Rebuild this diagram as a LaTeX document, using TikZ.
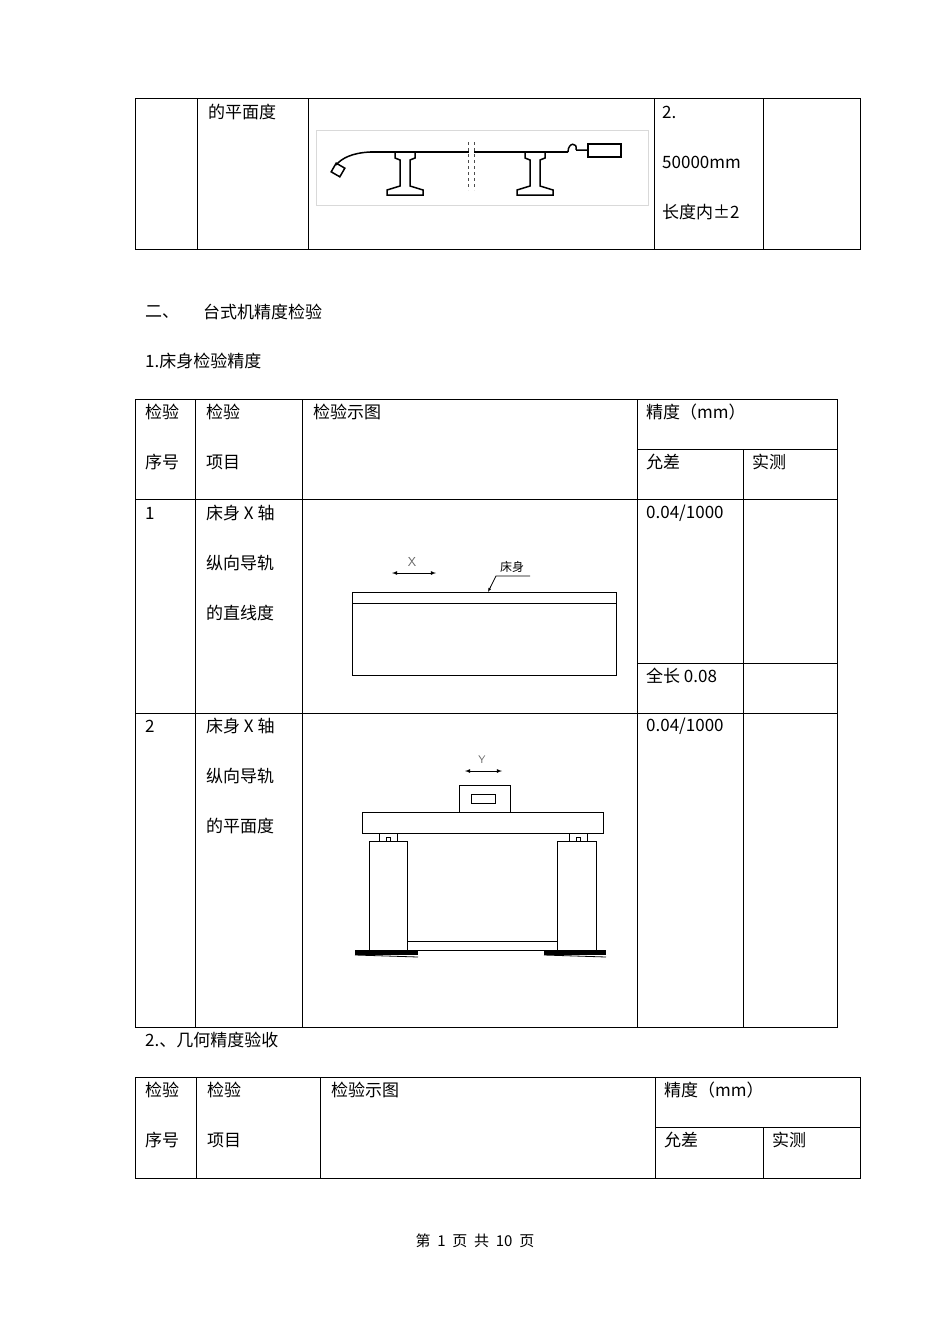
\documentclass[tikz,border=0pt]{standalone}
\usepackage{fontspec}
\setmainfont{Liberation Serif}
\newfontfamily\cjk{Noto Sans CJK SC}
\begin{document}
\begin{tikzpicture}[x=1pt,y=-1pt,
  tl/.style={anchor=west,inner sep=0pt,font=\cjk\fontsize{17}{20}\selectfont},
  grid/.style={line width=0.9pt},
  thin/.style={line width=0.8pt},
  bold/.style={line width=1.5pt}]
\useasboundingbox (0,0) rectangle (950,1344);
\fill[white] (0,0) rectangle (950,1344);
% Table 1
\draw[grid] (135,98) rectangle (860,249);
\foreach \x in {197,308,654,763} \draw[grid] (\x,98)--(\x,249);
\node[tl] (t1a) at (208,112) {的平面度};
\node[tl] (t1b) at (662,112) {2.};
\node[tl] (t1c) at (662,162) {50000mm};
\node[tl] (t1d) at (662,212) {长度内±2};
\draw[black!15] (316,130) rectangle (648,205);
\draw[bold] (370,152)--(568,152);
\draw[bold] (370,152) .. controls (352,153) and (342,158) .. (336,165);
\draw[bold,rotate around={-30:(338,170)}] (333,165) rectangle (343,175);
\foreach \c in {405,535}{
\draw[bold] (\c-10,152)--(\c-10,158)--(\c-5,160)--(\c-5,186)--(\c-18,190)--(\c-18,195)--(\c+18,195)--(\c+18,190)--(\c+5,186)--(\c+5,160)--(\c+10,158)--(\c+10,152);}
\draw[white,line width=5pt] (471,153)--(471,151);
\draw[thin,dashed,black!70] (468,142)--(468,190) (474,142)--(474,190);
\draw[bold] (568,152) .. controls (568,142) and (578,142) .. (576,150) (576,150)--(588,150);
\draw[bold] (588,144) rectangle (621,157);
% Section
\node[tl] (s1) at (145,312) {二、};
\node[tl] (s2) at (203,312) {台式机精度检验};
\node[tl] (s3) at (145,361) {1.床身检验精度};
% Table 2
\draw[grid] (135,399) rectangle (837,1027);
\foreach \x in {195,302,637} \draw[grid] (\x,399)--(\x,1027);
\draw[grid] (743,449)--(743,1027);
\draw[grid] (637,449)--(837,449);
\draw[grid] (135,499)--(837,499);
\draw[grid] (637,663)--(837,663);
\draw[grid] (135,713)--(837,713);
\node[tl] (h1) at (145,412) {检验};
\node[tl] (h2) at (145,462) {序号};
\node[tl] (h3) at (206,412) {检验};
\node[tl] (h4) at (206,462) {项目};
\node[tl] (h5) at (313,412) {检验示图};
\node[tl] (h6) at (646,412) {精度（mm）};
\node[tl] (h7) at (646,462) {允差};
\node[tl] (h8) at (752,462) {实测};
\node[tl] (r1a) at (145,513) {1};
\node[tl] (r1b) at (206,513) {床身 X 轴};
\node[tl] (r1c) at (206,563) {纵向导轨};
\node[tl] (r1d) at (206,613) {的直线度};
\node[tl] (r1e) at (646,513) {0.04/1000};
\node[tl] (r1f) at (646,676) {全长 0.08};
\node[tl] (r2a) at (145,726) {2};
\node[tl] (r2b) at (206,726) {床身 X 轴};
\node[tl] (r2c) at (206,776) {纵向导轨};
\node[tl] (r2d) at (206,826) {的平面度};
\node[tl] (r2e) at (646,726) {0.04/1000};
% drawing 1
\draw[thin] (352,592) rectangle (616,675);
\draw[thin] (352,603)--(616,603);
\draw[thin,<->,>=latex] (392,573)--(436,573);
\node[font=\sffamily\fontsize{13}{14}\selectfont,text=black!60,inner sep=0pt] (lx) at (412,562) {X};
\node[tl,font=\cjk\fontsize{12}{14}\selectfont] (lb) at (500,567) {床身};
\draw[thin] (530,576)--(496,576)--(489,590);
\draw[->,>=latex] (491,586)--(488,592);
% drawing 2
\draw[thin,<->,>=latex] (465,771)--(502,771);
\node[font=\sffamily\fontsize{11}{12}\selectfont,text=black!60,inner sep=0pt] (ly) at (482,760) {Y};
\draw[thin] (459,785) rectangle (510,812);
\draw[thin] (471,794) rectangle (495,803);
\draw[thin] (362,812) rectangle (603,833);
\foreach \a in {379,569}{
\draw[thin] (\a,833)--(\a,841) (\a+18,833)--(\a+18,841);
\draw[thin] (\a+7,841)--(\a+7,837)--(\a+11,837)--(\a+11,841);}
\draw[thin] (369,841) rectangle (407,950);
\draw[thin] (557,841) rectangle (596,950);
\draw[thin] (407,941)--(557,941);
\draw[thin] (407,950)--(557,950);
\fill (355,950) rectangle (418,955);
\fill (544,950) rectangle (606,955);
\draw[thin] (355,955)--(418,957) (544,955)--(606,957);
% Section 2
\node[tl] (s4) at (145,1040) {2.、几何精度验收};
% Table 3
\draw[grid] (135,1077) rectangle (860,1178);
\foreach \x in {196,320,655} \draw[grid] (\x,1077)--(\x,1178);
\draw[grid] (655,1127)--(860,1127);
\draw[grid] (763,1127)--(763,1178);
\node[tl] (g1) at (145,1090) {检验};
\node[tl] (g2) at (145,1140) {序号};
\node[tl] (g3) at (207,1090) {检验};
\node[tl] (g4) at (207,1140) {项目};
\node[tl] (g5) at (331,1090) {检验示图};
\node[tl] (g6) at (664,1090) {精度（mm）};
\node[tl] (g7) at (664,1140) {允差};
\node[tl] (g8) at (772,1140) {实测};
\node[font=\cjk\fontsize{15}{18}\selectfont,inner sep=0pt] (ft) at (475,1241) {第\ \ 1\ \ 页\ \ 共\ \ 10\ \ 页};
\end{tikzpicture}
\end{document}
